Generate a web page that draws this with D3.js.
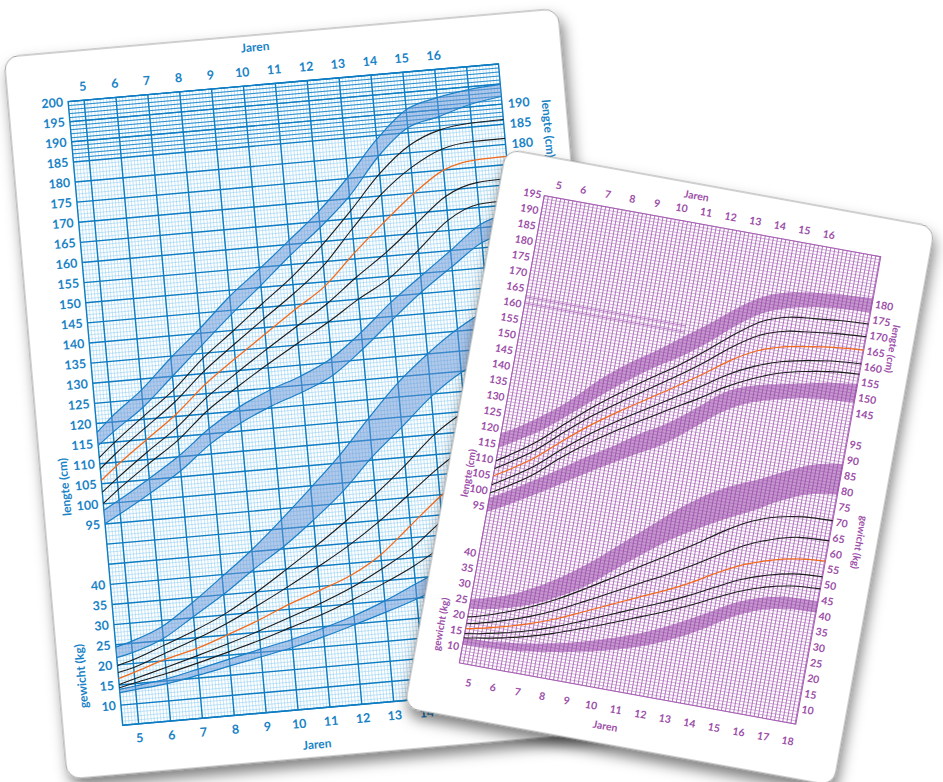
<!DOCTYPE html>
<html>
<head>
<meta charset="utf-8">
<script src="https://cdn.jsdelivr.net/npm/d3@7"></script>
<style>
  body { margin: 0; background: #fff; }
  svg { display: block; }
  text { font-family: Lato, "Open Sans", sans-serif; font-weight: 700; }
</style>
</head>
<body>
<script>
'use strict';

// ---- blue card (jongens) ----
let blueAges = [4.5, 5, 6, 7, 8, 9, 10, 11, 12, 13, 14, 15, 16, 17, 18];

// lengte (cm)
let blueLenBandHi   = [117.8, 121.3, 127.3, 134.6, 141.3, 148.5, 154.6, 161, 167.5, 175.3, 184, 190.7, 193, 194.3, 194.9];
let blueLenBandHi2  = [114.5, 117.5, 123, 130, 137, 144, 150.5, 157.3, 163.5, 170.6, 179.7, 186.2, 188.3, 190.6, 191.9];
let blueLenP1       = [111.5, 114.8, 120.8, 126.6, 133.8, 139.8, 146, 152, 159, 167, 175.5, 181.8, 185, 186, 186.2];
let blueLenP2       = [108.7, 112, 117.8, 123.6, 130.6, 136.5, 142.2, 147.8, 154, 162.5, 170.4, 176.3, 180.2, 181.4, 181.5];
let blueLenMedian   = [105.8, 109, 114.8, 120.5, 127.3, 133, 138.4, 143.8, 149, 156.5, 163.4, 169.8, 175, 176.8, 177];
let blueLenP3       = [102.9, 106, 111.8, 117.3, 124, 129.4, 134.6, 139.6, 144.5, 150.5, 156, 162.3, 168.5, 171.2, 171.6];
let blueLenP4       = [100.1, 103.2, 108.8, 114.1, 120.8, 126, 130.9, 135.5, 140, 145, 149.4, 155.8, 162.5, 165.8, 166.2];
let blueLenBandLo   = [98.4, 100.6, 105.3, 110.3, 116.3, 121, 124.5, 127.3, 131, 136.8, 143.5, 149.3, 155, 160.8, 163];
let blueLenBandLo2  = [95.1, 97.2, 101.7, 106.5, 112.5, 117, 120.5, 123.3, 126.8, 132.6, 139.2, 145.5, 151, 156.3, 158.5];

// gewicht (kg)
let blueWtBandHi    = [24.4, 25.5, 28.5, 33.7, 39.5, 45.5, 52.3, 59.5, 67, 75.5, 83.5, 90, 95.5, 99.5, 101];
let blueWtBandHi2   = [21.8, 22.7, 25.5, 30.3, 35.1, 40.6, 45.6, 51.5, 58, 65.8, 72.5, 79.4, 84.7, 88, 89.5];
let blueWtP1        = [19.8, 20.9, 23.8, 26.8, 30.3, 34.8, 39.8, 45, 50.5, 56.5, 63, 70, 75, 78.5, 80.5];
let blueWtP2        = [18.1, 19, 21.8, 24.6, 27.8, 31.5, 35.5, 39.8, 44.3, 49.5, 55.5, 61.5, 66.5, 70, 72];
let blueWtMedian    = [16.6, 17.8, 20.3, 22.3, 25, 27.9, 31.2, 34, 37, 41.5, 48, 54.5, 60, 64, 66];
let blueWtP3        = [15.1, 16.2, 18.3, 20.5, 22.8, 25.3, 28, 30.8, 34, 38, 42.5, 48.5, 53, 57, 59.5];
let blueWtP4        = [14.3, 15.2, 16.8, 18.7, 20.8, 23, 25.5, 28, 31, 34.3, 38, 42.5, 47, 51, 54];
let blueWtBandLo    = [13.9, 14.4, 15.5, 17.2, 19, 20.8, 22.5, 24.6, 27, 30, 33.5, 37, 41, 44, 46];
let blueWtBandLo2   = [13.1, 13.5, 14.3, 15.7, 17.3, 18.9, 20.5, 22.5, 24.8, 27.2, 29.8, 32.8, 36, 38.5, 40];

let blueTopYears    = d3.range(5, 17);
let blueBottomYears = d3.range(5, 19);
let blueLenTicks    = d3.range(95, 201, 5);
let blueWtTicks     = d3.range(10, 41, 5);
let blueRightLen    = [180, 185, 190];

// ---- purple card (meisjes) ----
let pinkAges = [4.5, 5, 6, 7, 8, 9, 10, 11, 12, 13, 14, 15, 16, 17, 18.2];

let pinkLenBandHi   = [118.7, 121, 126.5, 133, 141, 147.5, 153, 159, 165, 171.5, 176.5, 179, 180.2, 181, 181.7];
let pinkLenBandHi2  = [114, 116.5, 121.5, 128, 135, 141.5, 147.5, 152.5, 158.5, 165.5, 171, 174, 175.6, 176.5, 177.1];
let pinkLenP1       = [109.9, 112.5, 118.3, 125.6, 132.5, 138.6, 144.3, 149.8, 156, 162.7, 168.3, 171, 172, 172.8, 173.4];
let pinkLenP2       = [107.4, 110, 115.6, 122.8, 129.5, 135.3, 140.8, 146.3, 152.2, 158.7, 163.8, 166.5, 167.6, 168.6, 169.3];
let pinkLenMedian   = [105, 107.5, 113, 120, 126.5, 132.2, 137.5, 142.8, 148.3, 154.2, 158.8, 161.5, 163, 164.2, 165];
let pinkLenP3       = [102.2, 104.7, 110.1, 117.1, 123.5, 129.1, 134.2, 139.3, 144.3, 149.7, 153.8, 156.7, 158.5, 159.8, 160.6];
let pinkLenP4       = [99.6, 102, 107.3, 114.3, 120.5, 126, 130.9, 135.8, 140.5, 145.7, 149.8, 153, 155, 156.4, 157.3];
let pinkLenBandLo   = [98, 100.3, 105.3, 110.5, 116, 121, 126.5, 131.3, 137.5, 144, 147.5, 149.5, 151.2, 152.8, 154.1];
let pinkLenBandLo2  = [93.5, 95.6, 100.3, 105.2, 110.4, 115.3, 120, 124.7, 131, 137.5, 142, 144.5, 146.4, 147.5, 148.2];

let pinkWtBandHi    = [25.5, 26.5, 29, 33, 38, 44, 51, 58, 65, 71, 75.5, 79, 83, 86.5, 88.5];
let pinkWtBandHi2   = [22.4, 23, 24.8, 27.5, 31.5, 36.5, 43, 49.5, 55.5, 60.5, 65, 69, 73.5, 77, 78.6];
let pinkWtP1        = [19.8, 20.8, 23.5, 26.8, 30.8, 35.5, 40.5, 45.5, 50.5, 55.5, 61, 65.5, 68.3, 69.8, 70.3];
let pinkWtP2        = [17.6, 18.5, 20.8, 23.6, 27.1, 31.2, 35.5, 39.8, 44, 48.5, 53.5, 58, 61.2, 63.2, 63.8];
let pinkWtMedian    = [16, 16.8, 18.8, 21.2, 24.2, 27.8, 31.5, 35.2, 38.8, 42.8, 47.5, 51.6, 54.4, 56.3, 57.3];
let pinkWtP3        = [14.4, 15.1, 16.8, 18.9, 21.6, 24.8, 28.2, 31.6, 35, 38.7, 42.8, 46.8, 49.6, 51.5, 52.3];
let pinkWtP4        = [13.1, 13.7, 15.2, 17.1, 19.5, 22.4, 25.4, 28.6, 31.8, 35.3, 39.2, 43, 45.8, 47.6, 48.4];
let pinkWtBandLo    = [13, 13.2, 13.8, 14.8, 16.3, 18.2, 20.5, 23.2, 26.5, 30.5, 35, 39.5, 42.5, 44, 44.5];
let pinkWtBandLo2   = [10.8, 11, 11.5, 12.3, 13.5, 15, 16.8, 19, 21.8, 25.5, 30, 35, 38.5, 40.2, 40.8];

let pinkTopYears    = d3.range(5, 17);
let pinkBottomYears = d3.range(5, 19);
let pinkLenTicks    = d3.range(95, 196, 5);
let pinkWtTicks     = d3.range(10, 41, 5);
let pinkRightLen    = d3.range(145, 181, 5);
let pinkRightWt     = d3.range(10, 96, 5);

let width = 943;
let height = 782;

let svg = d3.select('body').append('svg')
    .attr('width', width)
    .attr('height', height);

svg.append('rect').attr('width', width).attr('height', height).attr('fill', '#fff');

let shadow = svg.append('defs').append('filter')
    .attr('id', 'shadow')
    .attr('x', '-10%').attr('y', '-10%')
    .attr('width', '130%').attr('height', '130%');
shadow.append('feDropShadow')
    .attr('dx', 3).attr('dy', 8)
    .attr('stdDeviation', 7)
    .attr('flood-color', '#000')
    .attr('flood-opacity', 0.5);

let lines = (g, data, x1, y1, x2, y2, color, w) => {
  g.append('g').selectAll('line')
    .data(data)
    .enter().append('line')
      .attr('x1', x1).attr('y1', y1)
      .attr('x2', x2).attr('y2', y2)
      .attr('stroke', color)
      .attr('stroke-width', w);
};

let label = (g, x, y, txt, size, color, anchor, rot) => {
  g.append('text')
    .attr('transform', 'translate(' + x + ',' + y + ')' + (rot ? ' rotate(' + rot + ')' : ''))
    .attr('text-anchor', anchor)
    .attr('dy', '0.35em')
    .attr('font-size', size)
    .attr('fill', color)
    .text(txt);
};

let zip = (ages, a, b) => ages.map((age, i) => ({age: age, a: a[i], b: b ? b[i] : null}));

let drawBands = (g, x, y, ages, bands, fill, opacity, edge) => {
  let area = d3.area()
    .x(d => x(d.age))
    .y0(d => y(d.b))
    .y1(d => y(d.a))
    .curve(d3.curveMonotoneX);
  let line = d3.line()
    .x(d => x(d.age))
    .y(d => y(d.a))
    .curve(d3.curveMonotoneX);
  bands.forEach(b => {
    g.append('path').attr('d', area(zip(ages, b[0], b[1])))
      .attr('fill', fill).attr('fill-opacity', opacity);
    if (edge) {
      [b[0], b[1]].forEach(s => {
        g.append('path').attr('d', line(zip(ages, s)))
          .attr('fill', 'none').attr('stroke', edge).attr('stroke-width', 1.2);
      });
    }
  });
};

let drawCurves = (g, x, y, ages, series) => {
  let line = d3.line()
    .x(d => x(d.age))
    .y(d => y(d.a))
    .curve(d3.curveMonotoneX);
  series.forEach(s => {
    g.append('path').attr('d', line(zip(ages, s[0])))
      .attr('fill', 'none')
      .attr('stroke', s[1])
      .attr('stroke-width', s[2]);
  });
};

// ================= blue card =================
let blueCard = svg.append('g').attr('transform', 'translate(4,57) rotate(-5)');
blueCard.append('rect')
    .attr('width', 556).attr('height', 725)
    .attr('rx', 14)
    .attr('fill', '#fff')
    .attr('stroke', '#8a8a8a').attr('stroke-width', 0.8)
    .attr('filter', 'url(#shadow)');

let bGw = 432, bGh = 626;
let bx = d3.scaleLinear().domain([4.5, 18]).range([0, bGw]);
let by = d3.scaleLinear().domain([45, 200]).range([bGh, 0]);
let byW = d3.scaleLinear().domain([5, 160]).range([bGh, 0]);   // gewicht shares the grid, 40 below lengte

let bg = blueCard.append('g').attr('transform', 'translate(60,50)');
let blueDark = '#0d7cc2';
let blueLight = '#95cff1';
let blueText = '#1a83c6';

lines(bg, d3.range(45, 181).map(i => i / 10), d => bx(d), 0, d => bx(d), bGh, blueLight, 0.55);
lines(bg, d3.range(45, 201), 0, d => by(d), bGw, d => by(d), blueLight, 0.55);
lines(bg, d3.range(186, 201), 0, d => by(d), bGw, d => by(d), blueDark, 0.8);
lines(bg, d3.range(45, 201, 5), 0, d => by(d), bGw, d => by(d), blueDark, 1.4);
lines(bg, d3.range(5, 18), d => bx(d), 0, d => bx(d), bGh, blueDark, 1.4);
bg.append('rect').attr('width', bGw).attr('height', bGh)
    .attr('fill', 'none').attr('stroke', blueDark).attr('stroke-width', 1.4);

drawBands(bg, bx, by, blueAges, [[blueLenBandHi, blueLenBandHi2], [blueLenBandLo, blueLenBandLo2]], '#6593d6', 0.5, '#1a7fc6');
drawBands(bg, bx, byW, blueAges, [[blueWtBandHi, blueWtBandHi2], [blueWtBandLo, blueWtBandLo2]], '#6593d6', 0.5, '#1a7fc6');

drawCurves(bg, bx, by, blueAges, [
  [blueLenP1, '#1c1c1c', 1.1], [blueLenP2, '#1c1c1c', 1.1],
  [blueLenP3, '#1c1c1c', 1.1], [blueLenP4, '#1c1c1c', 1.1],
  [blueLenMedian, '#f26a1b', 1.3]
]);
drawCurves(bg, bx, byW, blueAges, [
  [blueWtP1, '#1c1c1c', 1.1], [blueWtP2, '#1c1c1c', 1.1],
  [blueWtP3, '#1c1c1c', 1.1], [blueWtP4, '#1c1c1c', 1.1],
  [blueWtMedian, '#f26a1b', 1.3]
]);

blueTopYears.forEach(d => label(bg, bx(d), -14, d, 12.5, blueText, 'middle'));
blueBottomYears.forEach(d => label(bg, bx(d), bGh + 14, d, 12.5, blueText, 'middle'));
label(bg, bx(10.47), -38, 'Jaren', 12, blueText, 'middle');
label(bg, bx(10.5), bGh + 36, 'Jaren', 12, blueText, 'middle');
blueLenTicks.forEach(d => label(bg, -5, by(d), d, 12.5, blueText, 'end'));
blueWtTicks.forEach(d => label(bg, -5, byW(d), d, 12.5, blueText, 'end'));
blueRightLen.forEach(d => label(bg, bGw + 6, by(d), d, 12.5, blueText, 'start'));
label(bg, -37, by(105), 'lengte (cm)', 12, blueText, 'middle', -90);
label(bg, -37, byW(18), 'gewicht (kg)', 12, blueText, 'middle', -90);
label(bg, bGw + 44, by(183), 'lengte (cm)', 12, blueText, 'middle', 90);

// ================= purple card =================
let pinkCard = svg.append('g').attr('transform', 'translate(506,149) rotate(10.3)');
pinkCard.append('rect')
    .attr('width', 436).attr('height', 568)
    .attr('rx', 14)
    .attr('fill', '#fff')
    .attr('stroke', '#8a8a8a').attr('stroke-width', 0.8)
    .attr('filter', 'url(#shadow)');

let pGw = 342, pGh = 475;
let px = d3.scaleLinear().domain([4.5, 18.2]).range([0, pGw]);
let py = d3.scaleLinear().domain([45, 195]).range([pGh, 0]);
let pyW = d3.scaleLinear().domain([5, 155]).range([pGh, 0]);

let pg = pinkCard.append('g').attr('transform', 'translate(46,39)');
let purple = '#a65db3';
let purpleText = '#9c4ea8';

lines(pg, d3.range(45, 196), 0, d => py(d), pGw, d => py(d), '#bd8ac8', 0.65);
lines(pg, d3.range(27, 110).map(i => i / 6), d => px(d), 0, d => px(d), pGh, purple, 0.8);
lines(pg, [160.5, 162.5], 0, d => py(d), px(11), d => py(d), '#a760b4', 0.7);
pg.append('rect').attr('width', pGw).attr('height', pGh)
    .attr('fill', 'none').attr('stroke', purple).attr('stroke-width', 1);

drawBands(pg, px, py, pinkAges, [[pinkLenBandHi, pinkLenBandHi2], [pinkLenBandLo, pinkLenBandLo2]], '#9543a6', 0.55, null);
drawBands(pg, px, pyW, pinkAges, [[pinkWtBandHi, pinkWtBandHi2], [pinkWtBandLo, pinkWtBandLo2]], '#9543a6', 0.55, null);

drawCurves(pg, px, py, pinkAges, [
  [pinkLenP1, '#1c1c1c', 1.1], [pinkLenP2, '#1c1c1c', 1.1],
  [pinkLenP3, '#1c1c1c', 1.1], [pinkLenP4, '#1c1c1c', 1.1],
  [pinkLenMedian, '#f26a1b', 1.2]
]);
drawCurves(pg, px, pyW, pinkAges, [
  [pinkWtP1, '#1c1c1c', 1.1], [pinkWtP2, '#1c1c1c', 1.1],
  [pinkWtP3, '#1c1c1c', 1.1], [pinkWtP4, '#1c1c1c', 1.1],
  [pinkWtMedian, '#f26a1b', 1.2]
]);

pinkTopYears.forEach(d => label(pg, px(d), -12.5, d, 10.5, purpleText, 'middle'));
pinkBottomYears.forEach(d => label(pg, px(d), pGh + 18, d, 10.5, purpleText, 'middle'));
label(pg, px(10.5), -27, 'Jaren', 10.5, purpleText, 'middle');
label(pg, px(10.7), pGh + 36, 'Jaren', 10.5, purpleText, 'middle');
pinkLenTicks.forEach(d => label(pg, -3, py(d), d, 10.5, purpleText, 'end'));
pinkWtTicks.forEach(d => label(pg, -3, pyW(d), d, 10.5, purpleText, 'end'));
pinkRightLen.forEach(d => label(pg, pGw + 3, py(d), d, 10.5, purpleText, 'start'));
pinkRightWt.forEach(d => label(pg, pGw + 3, pyW(d), d, 10.5, purpleText, 'start'));
label(pg, -25, py(104.5), 'lengte (cm)', 10, purpleText, 'middle', -90);
label(pg, -25, pyW(16), 'gewicht (kg)', 10, purpleText, 'middle', -90);
label(pg, pGw + 28, py(167), 'lengte (cm)', 10, purpleText, 'middle', 90);
label(pg, pGw + 30, pyW(65), 'gewicht (kg)', 10, purpleText, 'middle', 90);
</script>
</body>
</html>
